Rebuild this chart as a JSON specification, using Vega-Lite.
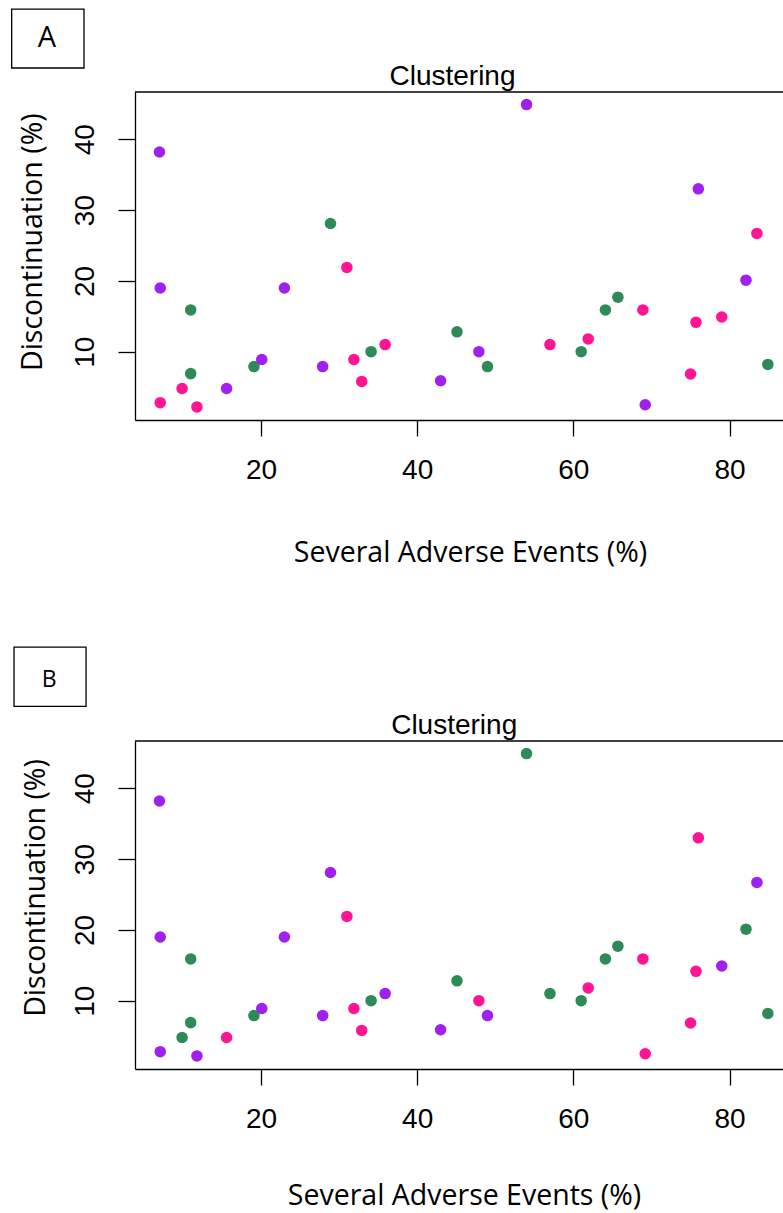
{
  "$schema": "https://vega.github.io/schema/vega-lite/v6.json",
  "padding": {"left": 11, "top": 8, "right": 0, "bottom": 0},
  "spacing": 78,
  "config": {"view": {"stroke": null}, "font": "Liberation Sans"},
  "datasets": {
    "pts": [
      {"x": 7.0, "y": 38.2, "a": "1", "b": "1"},
      {"x": 7.1, "y": 19.0, "a": "1", "b": "1"},
      {"x": 11.0, "y": 15.9, "a": "2", "b": "2"},
      {"x": 11.0, "y": 6.9, "a": "2", "b": "2"},
      {"x": 7.1, "y": 2.8, "a": "3", "b": "1"},
      {"x": 9.9, "y": 4.8, "a": "3", "b": "2"},
      {"x": 11.8, "y": 2.2, "a": "3", "b": "1"},
      {"x": 15.6, "y": 4.8, "a": "1", "b": "3"},
      {"x": 19.1, "y": 7.9, "a": "2", "b": "2"},
      {"x": 20.1, "y": 8.9, "a": "1", "b": "1"},
      {"x": 23.0, "y": 19.0, "a": "1", "b": "1"},
      {"x": 28.9, "y": 28.1, "a": "2", "b": "1"},
      {"x": 31.0, "y": 21.9, "a": "3", "b": "3"},
      {"x": 27.9, "y": 7.9, "a": "1", "b": "1"},
      {"x": 31.9, "y": 8.9, "a": "3", "b": "3"},
      {"x": 32.9, "y": 5.8, "a": "3", "b": "3"},
      {"x": 34.1, "y": 10.0, "a": "2", "b": "2"},
      {"x": 35.9, "y": 11.0, "a": "3", "b": "1"},
      {"x": 45.1, "y": 12.8, "a": "2", "b": "2"},
      {"x": 47.9, "y": 10.0, "a": "1", "b": "3"},
      {"x": 49.0, "y": 7.9, "a": "2", "b": "1"},
      {"x": 43.0, "y": 5.9, "a": "1", "b": "1"},
      {"x": 57.0, "y": 11.0, "a": "3", "b": "2"},
      {"x": 61.0, "y": 10.0, "a": "2", "b": "2"},
      {"x": 61.9, "y": 11.8, "a": "3", "b": "3"},
      {"x": 64.1, "y": 15.9, "a": "2", "b": "2"},
      {"x": 65.7, "y": 17.7, "a": "2", "b": "2"},
      {"x": 68.9, "y": 15.9, "a": "3", "b": "3"},
      {"x": 69.2, "y": 2.5, "a": "1", "b": "3"},
      {"x": 75.0, "y": 6.85, "a": "3", "b": "3"},
      {"x": 75.7, "y": 14.15, "a": "3", "b": "3"},
      {"x": 79.0, "y": 14.9, "a": "3", "b": "1"},
      {"x": 82.1, "y": 20.1, "a": "1", "b": "2"},
      {"x": 83.5, "y": 26.7, "a": "3", "b": "1"},
      {"x": 84.9, "y": 8.2, "a": "2", "b": "2"},
      {"x": 54.0, "y": 44.9, "a": "1", "b": "2"},
      {"x": 76.0, "y": 33.0, "a": "1", "b": "3"}
    ]
  },
  "vconcat": [
    {
      "width": 648,
      "height": 328,
      "layer": [
        {
          "data": {"name": "pts"},
          "mark": {"type": "circle", "size": 133, "opacity": 1},
          "encoding": {
            "x": {"field": "x", "type": "quantitative",
              "scale": {"domain": [3.87, 86.84], "nice": false, "zero": false},
              "axis": {"title": "Several Adverse Events (%)", "values": [20, 40, 60, 80], "grid": false,
                "domainColor": "black", "domainWidth": 1.3, "tickSize": 16, "tickColor": "black", "tickWidth": 1.3,
                "labelFont": "Liberation Sans", "labelFontSize": 28, "labelColor": "black", "labelPadding": 20,
                "labelFlush": false, "labelOverlap": false, "labelBound": false,
                "titleFont": "Open Sans", "titleFontSize": 28.5, "titleFontWeight": "normal", "titleColor": "black",
                "titleX": 335, "titleY": 141.7, "titleBaseline": "alphabetic", "titleAlign": "center"}},
            "y": {"field": "y", "type": "quantitative",
              "scale": {"domain": [0.35, 46.68], "nice": false, "zero": false},
              "axis": {"title": "Discontinuation (%)", "values": [10, 20, 30, 40], "grid": false,
                "domainColor": "black", "domainWidth": 1.3, "tickSize": 17, "tickColor": "black", "tickWidth": 1.3,
                "labelFont": "Liberation Sans", "labelFontSize": 28, "labelColor": "black", "labelPadding": 25,
                "labelAngle": 270, "labelAlign": "center", "labelBaseline": "alphabetic",
                "labelFlush": false, "labelOverlap": false, "labelBound": false,
                "titleFont": "Open Sans", "titleFontSize": 28.5, "titleFontWeight": "normal", "titleColor": "black",
                "titleAngle": 270, "titleX": -93.5, "titleY": 149.7, "titleBaseline": "alphabetic", "titleAlign": "center"}},
            "color": {"field": "a", "type": "nominal",
              "scale": {"domain": ["1", "2", "3"], "range": ["#A020F0", "#2E8B57", "#FF1493"]}, "legend": null}
          }
        },
        {
          "data": {"values": [{"label": "A"}]},
          "mark": {"type": "rule", "color": "black", "strokeWidth": 1.3},
          "encoding": {"y": {"datum": 46.68}}
        },
        {
          "data": {"values": [{"label": "A"}]},
          "mark": {"type": "rect", "fill": null, "stroke": "black", "strokeWidth": 1.3, "clip": false},
          "encoding": {"x": {"datum": -11.92}, "x2": {"datum": -2.66}, "y": {"datum": 58.4}, "y2": {"datum": 50.07}}
        },
        {
          "data": {"values": [{"label": "A"}]},
          "mark": {"type": "text", "font": "Open Sans", "fontSize": 29, "baseline": "alphabetic", "align": "center", "color": "black"},
          "encoding": {"x": {"datum": -7.4}, "y": {"datum": 52.99}, "text": {"field": "label"}}
        },
        {
          "data": {"values": [{"title": "Clustering"}]},
          "mark": {"type": "text", "font": "Liberation Sans", "fontSize": 28, "baseline": "alphabetic", "align": "center", "color": "black", "clip": false},
          "encoding": {"x": {"datum": 44.52}, "y": {"datum": 47.67}, "text": {"field": "title"}}
        }
      ]
    },
    {
      "width": 648,
      "height": 328,
      "layer": [
        {
          "data": {"name": "pts"},
          "mark": {"type": "circle", "size": 133, "opacity": 1},
          "encoding": {
            "x": {"field": "x", "type": "quantitative",
              "scale": {"domain": [3.87, 86.84], "nice": false, "zero": false},
              "axis": {"title": "Several Adverse Events (%)", "values": [20, 40, 60, 80], "grid": false,
                "domainColor": "black", "domainWidth": 1.3, "tickSize": 16, "tickColor": "black", "tickWidth": 1.3,
                "labelFont": "Liberation Sans", "labelFontSize": 28, "labelColor": "black", "labelPadding": 20,
                "labelFlush": false, "labelOverlap": false, "labelBound": false,
                "titleFont": "Open Sans", "titleFontSize": 28.5, "titleFontWeight": "normal", "titleColor": "black",
                "titleX": 329, "titleY": 135, "titleBaseline": "alphabetic", "titleAlign": "center"}},
            "y": {"field": "y", "type": "quantitative",
              "scale": {"domain": [0.35, 46.68], "nice": false, "zero": false},
              "axis": {"title": "Discontinuation (%)", "values": [10, 20, 30, 40], "grid": false,
                "domainColor": "black", "domainWidth": 1.3, "tickSize": 17, "tickColor": "black", "tickWidth": 1.3,
                "labelFont": "Liberation Sans", "labelFontSize": 28, "labelColor": "black", "labelPadding": 25,
                "labelAngle": 270, "labelAlign": "center", "labelBaseline": "alphabetic",
                "labelFlush": false, "labelOverlap": false, "labelBound": false,
                "titleFont": "Open Sans", "titleFontSize": 28.5, "titleFontWeight": "normal", "titleColor": "black",
                "titleAngle": 270, "titleX": -90.3, "titleY": 146.5, "titleBaseline": "alphabetic", "titleAlign": "center"}},
            "color": {"field": "b", "type": "nominal",
              "scale": {"domain": ["1", "2", "3"], "range": ["#A020F0", "#2E8B57", "#FF1493"]}, "legend": null}
          }
        },
        {
          "data": {"values": [{"label": "B"}]},
          "mark": {"type": "rule", "color": "black", "strokeWidth": 1.3},
          "encoding": {"y": {"datum": 46.68}}
        },
        {
          "data": {"values": [{"label": "B"}]},
          "mark": {"type": "rect", "fill": null, "stroke": "black", "strokeWidth": 1.3, "clip": false},
          "encoding": {"x": {"datum": -11.62}, "x2": {"datum": -2.4}, "y": {"datum": 59.95}, "y2": {"datum": 51.58}}
        },
        {
          "data": {"values": [{"label": "B"}]},
          "mark": {"type": "text", "font": "Open Sans", "fontSize": 23, "baseline": "alphabetic", "align": "center", "color": "black"},
          "encoding": {"x": {"datum": -7.12}, "y": {"datum": 54.3}, "text": {"field": "label"}}
        },
        {
          "data": {"values": [{"title": "Clustering"}]},
          "mark": {"type": "text", "font": "Liberation Sans", "fontSize": 28, "baseline": "alphabetic", "align": "center", "color": "black", "clip": false},
          "encoding": {"x": {"datum": 44.74}, "y": {"datum": 47.67}, "text": {"field": "title"}}
        }
      ]
    }
  ]
}
